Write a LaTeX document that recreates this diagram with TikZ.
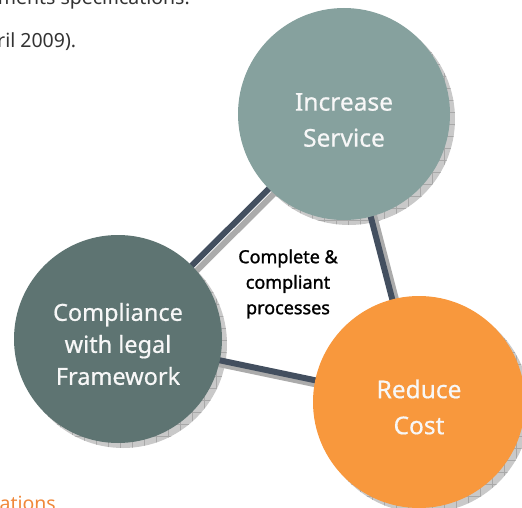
\documentclass[tikz,border=0pt]{standalone}
\usepackage{fontspec}
\setmainfont{Noto Sans}
\newfontfamily\midfont[FakeBold=1.3]{Noto Sans}
\newfontfamily\bubblefont[FakeBold=0.6]{Noto Sans}
\usetikzlibrary{patterns.meta}
\definecolor{incfill}{HTML}{86A19E}
\definecolor{compfill}{HTML}{5E7472}
\definecolor{costfill}{HTML}{F8983D}
\definecolor{linecol}{HTML}{434F5F}
\definecolor{shadowgray}{HTML}{C9C9C9}
\definecolor{hatchgray}{HTML}{A8A8A8}
\definecolor{bodytext}{HTML}{333333}
\definecolor{headorange}{HTML}{F0883A}
\definecolor{bubbletext}{HTML}{F7F7F7}
\pgfdeclarelayer{shadowlayer}
\pgfdeclarelayer{linelayer}
\pgfsetlayers{shadowlayer,linelayer,main}
\begin{document}
\begin{tikzpicture}[x=1pt,y=-1pt,
  bubble/.style={circle, inner sep=0pt},
  bubblelabel/.style={inner sep=0pt, align=center, text=bubbletext},
  bubbleshadow/.style={fill=shadowgray, postaction={pattern={Hatch[angle=0,distance=12pt,line width=0.5pt]}, pattern color=hatchgray}},
  conn/.style={draw=linecol, line width=6pt},
  connshadow/.style={draw=shadowgray!85!black, line width=6pt},
  pagetext/.style={inner sep=0pt, text=bodytext, font=\fontsize{19.5}{22}\selectfont},
]
\useasboundingbox (0,0) rectangle (522,508);
\clip (0,0) rectangle (522,508);

% page text fragments
\node[pagetext, anchor=base east] (t1) at (190,5) {requirements specifications.};
\node[pagetext, anchor=base west] (t2) at (-3,48) {ril 2009).};
\node[pagetext, anchor=base east, text=headorange] (t3) at (56,510) {Specifications};

% circles
\node[bubble, fill=incfill, minimum size=212pt] (inc) at (344,114) {};
\node[bubble, fill=compfill, minimum size=208pt] (comp) at (118,339) {};
\node[bubble, fill=costfill, minimum size=212pt] (cost) at (419,402) {};

% circle texts
\node[bubblelabel, font=\bubblefont\fontsize{24.5}{36}\selectfont] (incT) at ([yshift=-6pt]inc.center) {Increase\\Service};
\node[bubblelabel, font=\bubblefont\fontsize{23.5}{32}\selectfont] (compT) at ([yshift=-5pt]comp.center) {Compliance\\with legal\\Framework};
\node[bubblelabel, font=\bubblefont\fontsize{24.5}{36}\selectfont] (costT) at ([yshift=-5pt]cost.center) {Reduce\\Cost};

% centre text
\node[inner sep=0pt, align=center, text=black, font=\midfont\fontsize{18}{25.5}\selectfont] (mid) at (288,284) {Complete \&\\compliant\\processes};

% shadows of circles
\begin{pgfonlayer}{shadowlayer}
  \path[bubbleshadow] ([shift={(5,5)}]inc.center) circle[radius=106];
  \path[bubbleshadow] ([shift={(5,5)}]comp.center) circle[radius=104];
  \path[bubbleshadow] ([shift={(5,5)}]cost.center) circle[radius=106];
\end{pgfonlayer}

% connectors
\begin{pgfonlayer}{linelayer}
  \draw[connshadow] ([shift={(5,5)}]comp.center) -- ([shift={(5,5)}]inc.center);
  \draw[connshadow] ([shift={(5,5)}]inc.center) -- ([shift={(5,5)}]cost.center);
  \draw[connshadow] ([shift={(5,5)}]comp.center) -- ([shift={(5,5)}]cost.center);
  \draw[conn] (comp.center) -- (inc.center);
  \draw[conn] (inc.center) -- (cost.center);
  \draw[conn] (comp.center) -- (cost.center);
\end{pgfonlayer}
\end{tikzpicture}
\end{document}
